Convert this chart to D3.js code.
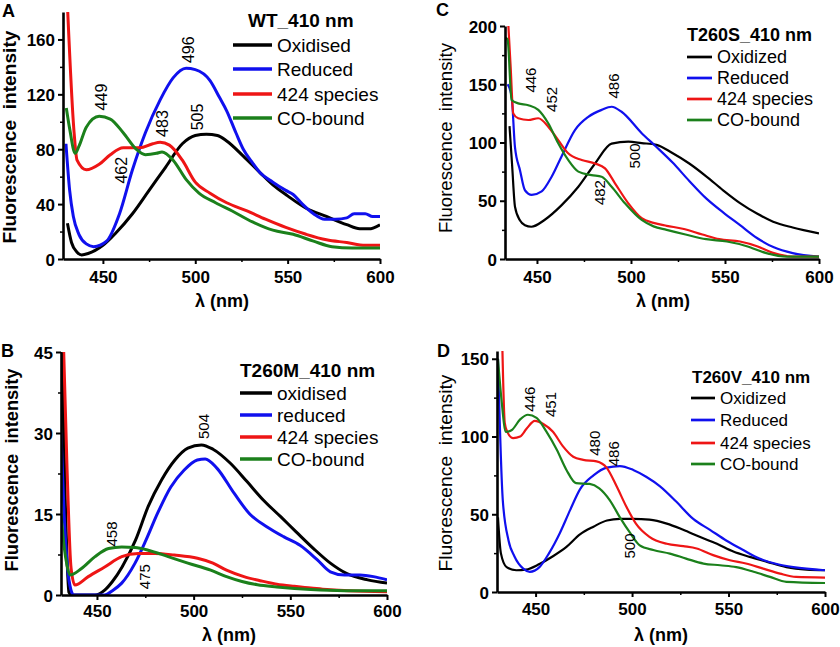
<!DOCTYPE html>
<html>
<head>
<meta charset="utf-8">
<script src="https://cdn.jsdelivr.net/npm/d3@7"></script>
<style>
  body { margin: 0; background: #fff; }
  svg text { font-family: Arial, "Liberation Sans", sans-serif; fill: #000; }
</style>
</head>
<body>
<svg id="fig" width="840" height="647"></svg>
<script>
// ---- data: [wavelength nm, fluorescence intensity] ----
var seriesNamesA = ["Oxidised", "Reduced", "424 species", "CO-bound"];
var seriesNamesC = ["Oxidized", "Reduced", "424 species", "CO-bound"];
var seriesNamesB = ["oxidised", "reduced", "424 species", "CO-bound"];
var colors = ["#000000", "#1010ee", "#ee1515", "#1b801b"];

var xTicks = [450, 500, 550, 600];

// panel A: WT
var wtOx = [[430.8,26],[433,12],[436,5],[438.5,3],[442,4],[450,10],[457,19],[466,33],[475,50],[484,67],[493,84],[500,90],[506,91],[512,90],[517,86],[526,75],[535,63],[542,54],[550,46],[560,37],[571,31],[582,25],[589,22],[594,22],[600,25]];
var wtRed = [[430,84],[432,50],[434,31],[437,18],[441,11],[445,9],[452,13],[459,33],[466,65],[473,92],[481,116],[488,132],[495,139],[500,138],[508,130],[513,118],[517,108],[522,92],[526,80],[531,70],[535,63],[542,56],[549,50],[553,47],[558,40],[564,33],[570,29],[576,29],[582,30],[586,33],[592,33],[596,31],[600,31]];
var wt424 = [[430.8,185],[434.3,94],[436,72],[441,65],[448,69],[454,76],[461,81],[470,81],[477,84],[481,85],[486,83],[493,72],[500,56],[508,48],[517,41],[528,35],[538,29],[549,23],[560,18],[571,14],[582,12],[592,10],[600,10]];
var wtCO = [[430.2,110],[432,95],[435,77],[437,82],[441,96],[448,104],[454,102],[461,92],[468,80],[473,76],[479,77],[482,78],[488,72],[495,58],[502,48],[511,41],[520,35],[531,27],[542,21],[553,18],[564,13],[574,9],[585,8],[600,8]];
var yTicksA = [0, 40, 80, 120, 160];
var annTextA = ["449", "496", "505", "483", "462"];
var annXA = [449.3, 496.4, 501.4, 482.3, 460];
var annYA = [118, 152.5, 103.5, 98.7, 64.7];

// panel B: T260M
var mOx = [[431.9,45],[433.6,17.6],[435.5,0.5],[437,0],[445,0],[449,0],[454,0.9],[458,2.5],[463,5.2],[470,10.2],[476.5,16.4],[483.4,21.3],[490.3,25],[497,27.2],[504,27.8],[510,27],[519,24.4],[527.6,21],[536,17.6],[545,14.5],[553,11.7],[562,8.6],[570.7,5.9],[579,4],[590,2.8],[600,2.2]];
var mRed = [[431.4,30],[433,15],[434.8,5],[436.5,1],[438,0],[445,0],[454,0],[458,0.8],[462.8,2.2],[469.7,5.9],[475.4,10.2],[481.3,15.1],[488.2,20],[495,23.1],[501.9,25],[506,25.2],[512,23.5],[521,18.8],[529,15],[538,12.6],[546.5,10.8],[555,9.2],[564,6.5],[570.7,4.3],[578,3.7],[586,3.7],[593,3.4],[600,2.8]];
var m424 = [[432.8,45],[434.5,23.7],[436.6,5],[438.6,1.85],[445.5,3.4],[454,5.2],[462.8,7.1],[471.3,7.7],[480,7.7],[490,7.4],[502,6.8],[510,5.9],[517,4.6],[526,3.4],[535,2.6],[543,2.0],[552,1.6],[560.6,1.3],[569,1.0],[580,0.8],[600,0.6]];
var mCO = [[431.4,15],[433,9],[434.5,5.5],[436,3.7],[442,4.9],[449,7.1],[456,8.6],[462.8,8.9],[469.7,8.8],[476.5,8.3],[486.8,7.1],[497,5.9],[508.8,4.6],[517,3.4],[525,2.5],[533,1.9],[543,1.5],[560.6,1.0],[578,0.8],[600,0.8]];
var yTicksB = [0, 15, 30, 45];
var annTextB = ["458", "504", "475"];
var annXB = [457.8, 505.4, 474.7];
var annYB = [11.3, 31.2, 3.4];

// panel C: T260S
var sOx = [[435.4,114],[436.8,80],[438.3,45],[441,33],[443.6,29],[447,27.7],[454,33.5],[463,46],[472,62],[480.9,82],[489.7,99],[498.6,100.7],[505.7,99.5],[513.6,98],[522,91],[531,82],[540,71],[549,59],[558,48],[567,39],[575.6,32],[586,27],[600,22]];
var sRed = [[434.4,150],[436.5,140],[438.3,96],[441,76],[443.6,59],[447.2,55],[452.5,58],[457.8,70.6],[463,87.8],[470.2,110.7],[477.3,122],[484.4,128],[489.7,130.7],[495,126.4],[505.7,108],[513,97],[522,83],[531,67],[540,52],[549,40],[558,29],[567,18],[576,10],[586,5],[600,2]];
var s424 = [[434.8,200],[436,165],[437.4,125],[440,120.8],[445.4,119.3],[450.7,120.8],[456,113.6],[461.3,102],[466.6,90.7],[473.8,85],[480.9,82],[486.2,77.8],[491.5,65],[498.6,47.8],[505.7,35],[512,31],[519,28.5],[527.5,26],[538,21],[547,17],[558,15],[567,11],[576,5],[586,2],[600,2]];
var sCO = [[433.5,190],[434.4,188],[436.5,136.5],[440,133.6],[445.4,132],[450.7,128],[456,116.5],[461.3,99.3],[466.6,85],[472,75],[479,72],[484.4,70.6],[489.7,62],[496.8,47.8],[505.7,33.5],[512,28],[519,25],[529,21],[540,17],[551,15],[561.6,11],[572,5],[583,2],[600,2]];
var yTicksC = [0, 50, 100, 150, 200];
var annTextC = ["446", "452", "486", "500", "482"];
var annXC = [446.6, 457.6, 490.8, 502, 483.5];
var annYC = [153.6, 137, 148.5, 88.4, 57];

// panel D: T260V
var vOx = [[430.5,48],[432,25],[435,16],[440,14],[445,14.4],[452,18],[459,23],[466,29],[473,37],[480,42],[487,46],[493.7,47],[500.6,47],[509,46.5],[518,44],[526.5,40],[535,35.5],[544,31],[552.5,26],[561,22.6],[570,19.4],[580,16],[590.5,14.4],[600,14]];
var vRed = [[430.5,150],[433,59],[436,33],[439,23],[443.6,15],[447,13],[452,16],[457,25],[462.6,38],[468,53],[473,66],[480,75],[486.8,80],[493.7,81],[500.6,78.5],[507.5,74],[514.5,68],[523,58],[531.7,47],[540.4,40],[549,33],[557.6,27],[566,21.5],[575,18],[583.6,16],[600,14]];
var v424 = [[432.8,156],[434,109],[435.3,103],[438.4,99],[442,100],[445.3,105],[449.6,110],[454,108],[459,103],[464,94],[469.5,87],[474.7,85],[481.6,84],[486.8,80],[492,68],[497,55],[502,44],[509,35.5],[518,31],[526.5,29.5],[533.5,28],[542,23.7],[550.7,20.4],[559,18.3],[568,15],[576.7,11.8],[585,9.7],[600,9.3]];
var vCO = [[430.5,150],[432.3,124],[434.6,103],[437.5,104],[442,111],[446,114],[450.5,112],[455.7,103],[461,91.5],[466,78.5],[471,70],[478,69.5],[483,66.7],[488.5,59],[493.7,48],[499,38],[504,30],[511,27],[519.6,24.7],[528,21.5],[537,18.3],[545.6,17.2],[554,16],[563,13],[571.5,9.7],[580,6.5],[600,5.8]];
var yTicksD = [0, 50, 100, 150];
var annTextD = ["446", "451", "480", "486", "500"];
var annXD = [446.9, 458.1, 480.5, 490.5, 498.8];
var annYD = [124, 120.6, 95.7, 88.9, 29.6];

// ---- layout ----
var panels = [
  { letter: "A", lx: 2, ly: 17, x0: 63, x1: 380, y0: 259, y1: 12, xd: [428.4, 600], yd: [0, 180],
    yTicks: yTicksA, yMinor: 20, series: [wtOx, wtRed, wt424, wtCO], names: seriesNamesA, lw: 3,
    title: "WT_410 nm", tx: 248, ty: 27, legX: 233, legLen: 39, legY: [45, 69, 94, 118], legFont: 19,
    annT: annTextA, annX: annXA, annY: annYA, annFont: 16,
    xtY: 283, xtitleX: 222, xtitleY: 307, ytitleX: 16, ytitleY: 137, ytLen: 213, ytBold: true },
  { letter: "C", lx: 436, ly: 16, x0: 505, x1: 819, y0: 259, y1: 26, xd: [433, 600], yd: [0, 200],
    yTicks: yTicksC, yMinor: 25, series: [sOx, sRed, s424, sCO], names: seriesNamesC, lw: 2.2,
    title: "T260S_410 nm", tx: 687, ty: 41, legX: 687, legLen: 25, legY: [57, 78, 99, 120], legFont: 18,
    annT: annTextC, annX: annXC, annY: annYC, annFont: 15,
    xtY: 283, xtitleX: 663, xtitleY: 307, ytitleX: 452, ytitleY: 138, ytLen: 190, ytBold: false },
  { letter: "B", lx: 1, ly: 357, x0: 61, x1: 387, y0: 595, y1: 352, xd: [431.4, 600], yd: [0, 45],
    yTicks: yTicksB, yMinor: 7.5, series: [mOx, mRed, m424, mCO], names: seriesNamesB, lw: 3,
    title: "T260M_410 nm", tx: 240, ty: 377, legX: 240, legLen: 32, legY: [393, 415, 437, 459], legFont: 19,
    annT: annTextB, annX: annXB, annY: annYB, annFont: 15,
    xtY: 617, xtitleX: 229, xtitleY: 641, ytitleX: 18, ytitleY: 470, ytLen: 203, ytBold: true },
  { letter: "D", lx: 437, ly: 357, x0: 497, x1: 825, y0: 592, y1: 351, xd: [430, 600], yd: [0, 155],
    yTicks: yTicksD, yMinor: 25, series: [vOx, vRed, v424, vCO], names: seriesNamesC, lw: 2.2,
    title: "T260V_410 nm", tx: 692, ty: 383, legX: 691, legLen: 24, legY: [398, 420, 443, 464], legFont: 17,
    annT: annTextD, annX: annXD, annY: annYD, annFont: 15,
    xtY: 615, xtitleX: 661, xtitleY: 641, ytitleX: 452, ytitleY: 473, ytLen: 197, ytBold: false }
];

var svg = d3.select("#fig");

panels.forEach(function (p, i) {
  var x = d3.scaleLinear().domain(p.xd).range([p.x0, p.x1]);
  var y = d3.scaleLinear().domain(p.yd).range([p.y0, p.y1]);
  var g = svg.append("g");

  // clip for curves
  g.append("clipPath").attr("id", "clip" + i)
    .append("rect").attr("x", p.x0).attr("y", p.y1)
    .attr("width", p.x1 - p.x0).attr("height", p.y0 - p.y1);

  var line = d3.line()
    .x(function (d) { return x(d[0]); })
    .y(function (d) { return y(d[1]); })
    .curve(d3.curveMonotoneX);

  g.append("g").attr("clip-path", "url(#clip" + i + ")")
    .selectAll("path").data(p.series).enter().append("path")
    .attr("d", line)
    .attr("fill", "none")
    .attr("stroke", function (d, k) { return colors[k]; })
    .attr("stroke-width", p.lw)
    .attr("stroke-linejoin", "round");

  // minor ticks
  var xm = [475, 525, 575];
  var ym = d3.range(p.yMinor, p.yd[1], p.yMinor * 2);
  g.append("g").attr("transform", "translate(0," + p.y0 + ")")
    .call(d3.axisBottom(x).tickValues(xm).tickSize(3).tickSizeOuter(0).tickFormat(""))
    .call(function (s) { s.select(".domain").remove(); s.selectAll("line").attr("stroke-width", 1.5); });
  g.append("g").attr("transform", "translate(" + p.x0 + ",0)")
    .call(d3.axisLeft(y).tickValues(ym).tickSize(3).tickSizeOuter(0).tickFormat(""))
    .call(function (s) { s.select(".domain").remove(); s.selectAll("line").attr("stroke-width", 1.5); });

  // major axes
  var xa = g.append("g").attr("transform", "translate(0," + p.y0 + ")")
    .call(d3.axisBottom(x).tickValues(xTicks).tickSize(5).tickSizeOuter(0).tickPadding(6));
  var ya = g.append("g").attr("transform", "translate(" + p.x0 + ",0)")
    .call(d3.axisLeft(y).tickValues(p.yTicks).tickSize(5).tickSizeOuter(0).tickPadding(3));
  [xa, ya].forEach(function (a) {
    a.attr("font-family", null).attr("font-size", null);
    a.select(".domain").attr("stroke-width", 2.6).attr("stroke", "#000");
    a.selectAll(".tick line").attr("stroke-width", 2).attr("stroke", "#000");
    a.selectAll(".tick text").attr("font-size", 17).attr("font-weight", "bold").attr("fill", "#000");
  });
  xa.selectAll(".tick text").attr("dy", null).attr("y", p.xtY - p.y0);
  ya.selectAll(".tick text").attr("dy", "0.36em");

  // panel letter
  g.append("text").attr("x", p.lx).attr("y", p.ly)
    .attr("font-size", 18).attr("font-weight", "bold").text(p.letter);

  // axis titles
  g.append("text").attr("x", p.xtitleX).attr("y", p.xtitleY)
    .attr("text-anchor", "middle").attr("font-size", 18).attr("font-weight", "bold")
    .text("\u03bb (nm)");
  g.append("text")
    .attr("transform", "translate(" + p.ytitleX + "," + p.ytitleY + ") rotate(-90)")
    .attr("text-anchor", "middle").attr("font-size", 18)
    .attr("font-weight", p.ytBold ? "bold" : "normal")
    .attr("textLength", p.ytLen).attr("lengthAdjust", "spacingAndGlyphs")
    .style("white-space", "pre")
    .text("Fluorescence  intensity");

  // legend
  g.append("text").attr("x", p.tx).attr("y", p.ty)
    .attr("font-size", p.legFont).attr("font-weight", "bold").text(p.title);
  var leg = g.selectAll(".leg").data(p.names).enter().append("g");
  leg.append("line")
    .attr("x1", p.legX).attr("x2", p.legX + p.legLen)
    .attr("y1", function (d, k) { return p.legY[k]; })
    .attr("y2", function (d, k) { return p.legY[k]; })
    .attr("stroke", function (d, k) { return colors[k]; })
    .attr("stroke-width", p.lw + 0.5);
  leg.append("text")
    .attr("x", p.legX + p.legLen + 5)
    .attr("y", function (d, k) { return p.legY[k]; })
    .attr("dy", "0.35em").attr("font-size", p.legFont)
    .text(function (d) { return d; });

  // peak annotations, rotated
  p.annT.forEach(function (t, k) {
    g.append("text")
      .attr("transform", "translate(" + x(p.annX[k]) + "," + y(p.annY[k]) + ") rotate(-90)")
      .attr("text-anchor", "middle").attr("dy", "0.35em")
      .attr("font-size", p.annFont).text(t);
  });
});
</script>
</body>
</html>
